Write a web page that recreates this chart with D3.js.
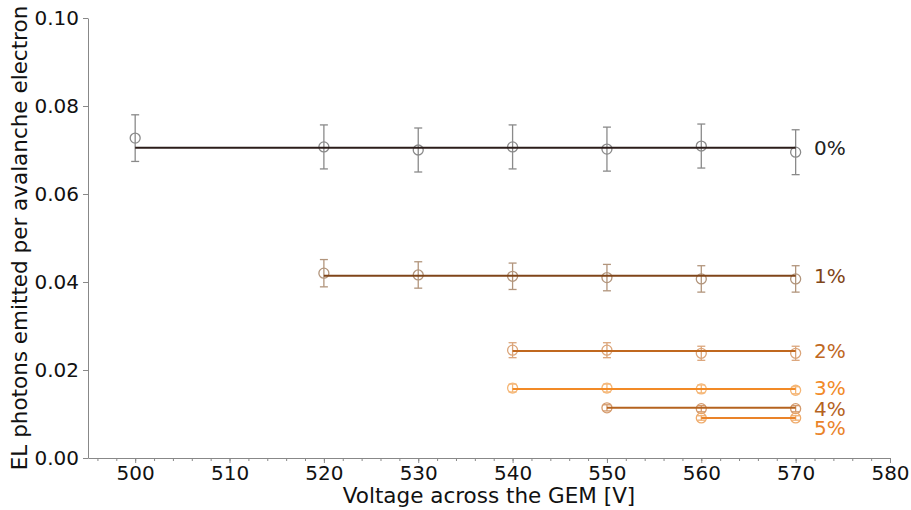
<!DOCTYPE html>
<html>
<head>
<meta charset="utf-8">
<script src="https://cdn.jsdelivr.net/npm/d3@7"></script>
<style>
  body { margin: 0; background: #fff; }
  svg { font-family: "DejaVu Sans", sans-serif; }
  .axis path, .axis line { stroke: #888; }
  .axis text { fill: #111; font-size: 20px; font-family: "DejaVu Sans", sans-serif; }
</style>
</head>
<body>
<svg width="911" height="510"></svg>
<script>
// concentrations and their fitted constant
const seriesNames = ["0%", "1%", "2%", "3%", "4%", "5%"]
const voltages = [
  [500, 520, 530, 540, 550, 560, 570],
  [520, 530, 540, 550, 560, 570],
  [540, 550, 560, 570],
  [540, 550, 560, 570],
  [550, 560, 570],
  [560, 570]
]
const yields = [
  [0.0727, 0.0707, 0.0700, 0.0707, 0.0702, 0.0709, 0.0695],
  [0.0420, 0.0416, 0.0413, 0.0410, 0.0407, 0.0407],
  [0.0245, 0.0245, 0.0238, 0.0238],
  [0.0159, 0.0159, 0.0157, 0.0154],
  [0.0114, 0.0112, 0.0112],
  [0.0091, 0.0091]
]
const errors = [
  [0.0053, 0.0050, 0.0050, 0.0050, 0.0050, 0.0050, 0.0051],
  [0.0031, 0.0030, 0.0030, 0.0030, 0.0030, 0.0030],
  [0.0017, 0.0017, 0.0016, 0.0016],
  [0.0009, 0.0009, 0.0009, 0.0008],
  [0.0007, 0.0007, 0.0007],
  [0.0005, 0.0005]
]
const fits = [0.0705, 0.0414, 0.0243, 0.0157, 0.0114, 0.0091]
const labelValues = [0.0705, 0.0414, 0.0243, 0.0159, 0.0112, 0.0068]
const lineColors = ["#2b1d1a", "#7f4519", "#c0681f", "#f28a26", "#b5631f", "#ea8329"]
const markColors = ["#8a8a8a", "#b2957c", "#dba57a", "#f5b676", "#d49a6c", "#efab6b"]

const xTicks = d3.range(500, 581, 10)
const yTicks = [0, 0.02, 0.04, 0.06, 0.08, 0.10]

const svg = d3.select("svg")
const margin = {top: 18, right: 21, bottom: 52, left: 88}
const width = +svg.attr("width")
const height = +svg.attr("height")

const x = d3.scaleLinear().domain([495, 580]).range([margin.left, width - margin.right])
const y = d3.scaleLinear().domain([0, 0.10]).range([height - margin.bottom, margin.top])

// minor ticks
svg.append("g")
  .attr("class", "axis")
  .attr("transform", `translate(0, ${y(0)})`)
  .call(d3.axisBottom(x).tickValues(d3.range(496, 581, 2)).tickSize(3).tickFormat(""))
  .call(g => g.select(".domain").remove())

svg.append("g")
  .attr("class", "axis")
  .attr("transform", `translate(0, ${y(0)})`)
  .call(d3.axisBottom(x).tickValues(xTicks).tickSize(5).tickPadding(3).tickSizeOuter(0))

svg.append("g")
  .attr("class", "axis")
  .attr("transform", `translate(${x(495)}, 0)`)
  .call(d3.axisLeft(y).tickValues(yTicks).tickSize(5).tickPadding(4).tickSizeOuter(0)
    .tickFormat(d3.format(".2f")))

svg.append("text")
  .attr("x", (x(495) + x(580)) / 2)
  .attr("y", 503)
  .attr("text-anchor", "middle")
  .attr("font-size", 21.5)
  .attr("fill", "#111")
  .text("Voltage across the GEM [V]")

svg.append("text")
  .attr("transform", `translate(27, ${(y(0) + y(0.1)) / 2}) rotate(-90)`)
  .attr("text-anchor", "middle")
  .attr("font-size", 21.5)
  .attr("fill", "#111")
  .text("EL photons emitted per avalanche electron")

seriesNames.forEach((name, i) => {
  const pts = voltages[i].map((v, j) => ({v, val: yields[i][j], err: errors[i][j]}))
  const g = svg.append("g")

  const bars = g.selectAll(".err").data(pts).join("g").attr("stroke", markColors[i]).attr("stroke-width", 1.3)
  bars.append("line")
    .attr("x1", d => x(d.v)).attr("x2", d => x(d.v))
    .attr("y1", d => y(d.val - d.err)).attr("y2", d => y(d.val + d.err))
  bars.append("line")
    .attr("x1", d => x(d.v) - 4).attr("x2", d => x(d.v) + 4)
    .attr("y1", d => y(d.val + d.err)).attr("y2", d => y(d.val + d.err))
  bars.append("line")
    .attr("x1", d => x(d.v) - 4).attr("x2", d => x(d.v) + 4)
    .attr("y1", d => y(d.val - d.err)).attr("y2", d => y(d.val - d.err))

  g.selectAll("circle").data(pts).join("circle")
    .attr("cx", d => x(d.v)).attr("cy", d => y(d.val)).attr("r", 5)
    .attr("fill", "none").attr("stroke", markColors[i]).attr("stroke-width", 1.3)

  const vs = voltages[i]
  g.append("line")
    .attr("x1", x(vs[0])).attr("x2", x(vs[vs.length - 1]))
    .attr("y1", y(fits[i])).attr("y2", y(fits[i]))
    .attr("stroke", lineColors[i]).attr("stroke-width", 2)

  svg.append("text")
    .attr("x", 814).attr("y", y(labelValues[i]))
    .attr("dy", "0.35em")
    .attr("font-size", 20)
    .attr("fill", i === 0 ? "#222" : lineColors[i])
    .text(name)
})
</script>
</body>
</html>
